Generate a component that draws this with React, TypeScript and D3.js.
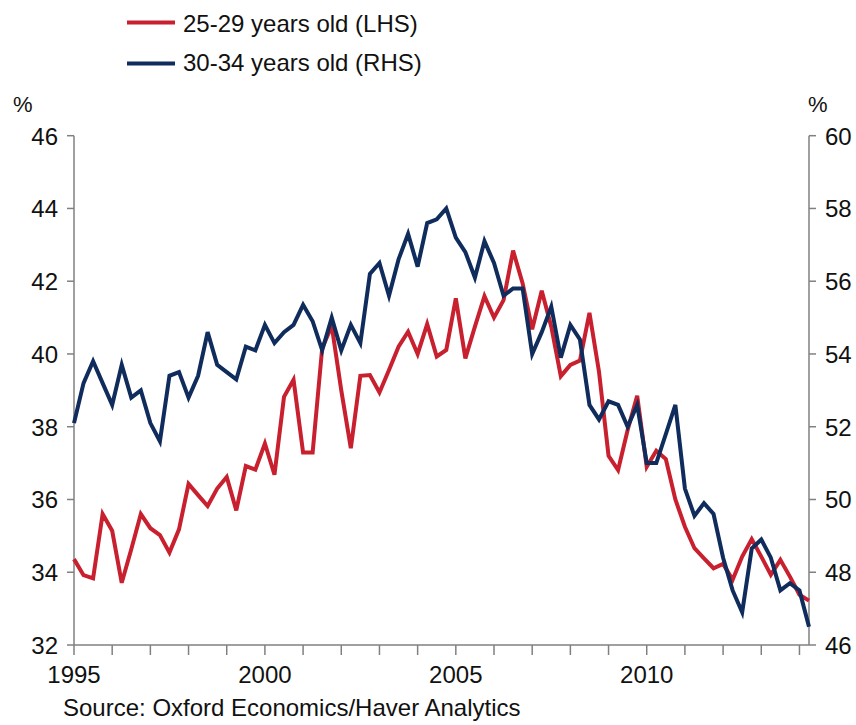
import React from "react"
import { scaleLinear, line } from "d3"

// quarterly, 1995 Q1 .. 2014 Q2
const START_YEAR = 1995
const age2529LHS = [
  34.36, 33.92, 33.83, 35.6, 35.14, 33.71, 34.63, 35.6, 35.21, 35.02,
  34.54, 35.18, 36.43, 36.12, 35.82, 36.3, 36.62, 35.7, 36.92, 36.82,
  37.54, 36.68, 38.82, 39.29, 37.29, 37.29, 40.16, 40.77, 39.0, 37.41,
  39.4, 39.42, 38.94, 39.56, 40.2, 40.61, 40.0, 40.82, 39.93, 40.11,
  41.53, 39.88, 40.75, 41.59, 41.0, 41.48, 42.84, 41.94, 40.68, 41.74,
  40.75, 39.39, 39.7, 39.82, 41.13, 39.51, 37.2, 36.81, 37.91, 38.85,
  36.9, 37.34, 37.11, 36.0, 35.25, 34.66, 34.38, 34.11, 34.23, 33.79,
  34.43, 34.91, 34.43, 33.93, 34.34, 33.88, 33.38, 33.22
]
const age3034RHS = [
  52.1, 53.2, 53.8, 53.2, 52.6, 53.7, 52.8, 53.0, 52.1, 51.6,
  53.4, 53.5, 52.8, 53.4, 54.6, 53.7, 53.5, 53.3, 54.2, 54.1,
  54.8, 54.3, 54.6, 54.8, 55.35, 54.9, 54.1, 55.0, 54.1, 54.8,
  54.3, 56.2, 56.5, 55.6, 56.6, 57.3, 56.4, 57.6, 57.7, 58.0,
  57.2, 56.8, 56.1, 57.1, 56.5, 55.6, 55.8, 55.8, 54.0, 54.6,
  55.3, 53.9, 54.8, 54.4, 52.6, 52.2, 52.7, 52.6, 52.0, 52.6,
  51.0, 51.0, 51.8, 52.6, 50.3, 49.55, 49.9, 49.6, 48.4, 47.5,
  46.9, 48.65, 48.9, 48.4, 47.5, 47.7, 47.5, 46.5
]
const leftTicks = [32, 34, 36, 38, 40, 42, 44, 46]
const rightTicks = [46, 48, 50, 52, 54, 56, 58, 60]
const yearTicks = [1995, 1996, 1997, 1998, 1999, 2000, 2001, 2002, 2003, 2004, 2005, 2006, 2007, 2008, 2009, 2010, 2011, 2012, 2013, 2014]
const yearLabels = [1995, 2000, 2005, 2010]
const legendItems = ["25-29 years old (LHS)", "30-34 years old (RHS)"]

const RED = "#c8202e"
const BLUE = "#0f2c5c"
const AXIS = "#808080"
const FONT = "'Liberation Sans', Arial, sans-serif"

export default function App() {
  const left = 74, right = 809, top = 135.7, bottom = 645

  const x = scaleLinear().domain([1995, 2014.25]).range([left, right])
  const yL = scaleLinear().domain([32, 46]).range([bottom, top])
  const yR = scaleLinear().domain([46, 60]).range([bottom, top])

  const redPath = line<number>()
    .x((d, i) => x(START_YEAR + i / 4))
    .y(d => yL(d))(age2529LHS)
  const bluePath = line<number>()
    .x((d, i) => x(START_YEAR + i / 4))
    .y(d => yR(d))(age3034RHS)

  return (
    <svg width={856} height={725} style={{ position: "absolute", left: 0, top: 0, background: "#fff" }}
      fontFamily={FONT}>
      <rect width={856} height={725} fill="#fff" />

      {/* legend */}
      <line x1={127} x2={175} y1={22.5} y2={22.5} stroke={RED} strokeWidth={4} />
      <text x={183} y={32} fontSize={24} fill="#111">{legendItems[0]}</text>
      <line x1={127} x2={175} y1={63.5} y2={63.5} stroke={BLUE} strokeWidth={4} />
      <text x={183} y={71} fontSize={24} fill="#111">{legendItems[1]}</text>

      {/* unit labels */}
      <text x={13} y={112} fontSize={22} fill="#111">%</text>
      <text x={808} y={112} fontSize={22} fill="#111">%</text>

      {/* axes */}
      <line x1={left} x2={left} y1={top} y2={bottom} stroke={AXIS} strokeWidth={1.5} />
      <line x1={right} x2={right} y1={top} y2={bottom} stroke={AXIS} strokeWidth={1.5} />
      <line x1={left} x2={right} y1={bottom} y2={bottom} stroke={AXIS} strokeWidth={1.5} />

      {leftTicks.map(t => (
        <g key={"l" + t}>
          <line x1={left - 7} x2={left} y1={yL(t)} y2={yL(t)} stroke={AXIS} strokeWidth={1.5} />
          <text x={58} y={yL(t) + 9} fontSize={24} textAnchor="end" fill="#111">{t}</text>
        </g>
      ))}
      {rightTicks.map(t => (
        <g key={"r" + t}>
          <line x1={right} x2={right + 7} y1={yR(t)} y2={yR(t)} stroke={AXIS} strokeWidth={1.5} />
          <text x={825} y={yR(t) + 9} fontSize={24} fill="#111">{t}</text>
        </g>
      ))}
      {yearTicks.map(t => (
        <line key={"x" + t} x1={x(t)} x2={x(t)} y1={bottom} y2={bottom + 10} stroke={AXIS} strokeWidth={1.5} />
      ))}
      {yearLabels.map(t => (
        <text key={"xl" + t} x={x(t)} y={683} fontSize={24} textAnchor="middle" fill="#111">{t}</text>
      ))}

      {/* series */}
      <path d={redPath || ""} fill="none" stroke={RED} strokeWidth={4} strokeLinejoin="miter" />
      <path d={bluePath || ""} fill="none" stroke={BLUE} strokeWidth={4} strokeLinejoin="miter" />

      <text x={63} y={716} fontSize={24} fill="#111">Source: Oxford Economics/Haver Analytics</text>
    </svg>
  )
}
